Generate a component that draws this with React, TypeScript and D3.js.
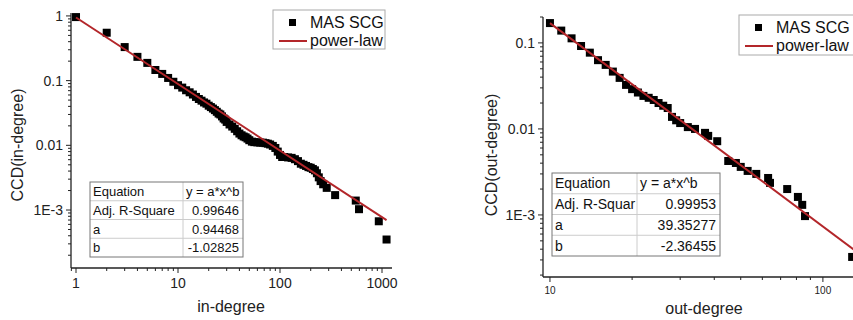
import * as d3 from "d3";

// in-degree complementary cumulative distribution
const inDegree = [
  1, 2, 3, 4, 5, 6, 7, 8, 9, 10, 11, 12, 13, 14, 15, 16, 17, 18, 19, 20, 21, 22, 23, 24, 25, 26, 27, 28, 29, 30,
  32, 34, 36, 38, 40, 42, 44, 46, 48, 50, 53, 56, 60, 64, 68, 72, 76, 80, 85, 90, 95, 100, 105, 110, 120, 130,
  140, 150, 160, 170, 180, 190, 200, 210, 220, 230, 240, 250, 265, 287, 347, 553, 595, 930, 1108,
];
const inCcd = [
  0.96, 0.55, 0.33, 0.233, 0.188, 0.146, 0.127, 0.11, 0.096, 0.085, 0.078, 0.071, 0.066, 0.061, 0.056, 0.052,
  0.049, 0.046, 0.044, 0.041, 0.039, 0.037, 0.035, 0.033, 0.031, 0.03, 0.028, 0.026, 0.025, 0.023, 0.021, 0.0195,
  0.018, 0.0165, 0.0152, 0.0143, 0.0137, 0.0133, 0.0127, 0.012, 0.0114, 0.0112, 0.0111, 0.011, 0.011, 0.0108,
  0.0106, 0.0103, 0.0098, 0.0091, 0.008, 0.0071, 0.0066, 0.0066, 0.0065, 0.0064, 0.0061, 0.0057, 0.0052, 0.005,
  0.0048, 0.0046, 0.0045, 0.0043, 0.0041, 0.0037, 0.0032, 0.0028, 0.0025, 0.0022, 0.0017, 0.0014, 0.00103,
  0.00067, 0.00035,
];

// out-degree
const outDegree = [
  10, 11, 12, 13, 14, 15, 16, 17, 18, 19, 20, 21, 22, 23, 24, 25, 26, 27, 28, 29, 30, 32, 34, 37, 38, 41, 45, 48,
  50, 53, 57, 63, 64, 74, 81, 84, 86, 128,
];
const outCcd = [
  0.17, 0.139, 0.113, 0.092, 0.077, 0.063, 0.0555, 0.0464, 0.0392, 0.0325, 0.029, 0.0265, 0.0242, 0.023, 0.0217,
  0.02, 0.0186, 0.0175, 0.0138, 0.0126, 0.0117, 0.0105, 0.01, 0.009, 0.0083, 0.0072, 0.00424, 0.00402, 0.00362,
  0.00325, 0.003, 0.00269, 0.00236, 0.002, 0.00162, 0.00131, 0.00097, 0.000325,
];

const inFit = [0.94468, -1.02825];
const outFit = [39.35277, -2.36455];

const inTable = [
  ["Equation", "y = a*x^b"],
  ["Adj. R-Square", "0.99646"],
  ["a", "0.94468"],
  ["b", "-1.02825"],
];
const outTable = [
  ["Equation", "y = a*x^b"],
  ["Adj. R-Squar", "0.99953"],
  ["a", "39.35277"],
  ["b", "-2.36455"],
];

const legendLabels = ["MAS SCG", "power-law"];
const inXTicks = [1, 10, 100, 1000];
const inYTicks = [1, 0.1, 0.01, 0.001];
const outXTicks = [10, 100];
const outYTicks = [0.1, 0.01, 0.001];
const yTickText = (v: number) => (v === 0.001 ? "1E-3" : String(v));

const RED = "#b3262a";
const AXIS = "#222";
const FONT = "Liberation Sans, Arial, sans-serif";

function minorTicks(domain: number[]) {
  const lo = Math.min(domain[0], domain[1]);
  const hi = Math.max(domain[0], domain[1]);
  const out: number[] = [];
  for (let k = Math.floor(Math.log10(lo)); k <= Math.ceil(Math.log10(hi)); k++) {
    for (let m = 2; m <= 9; m++) {
      const v = m * Math.pow(10, k);
      if (v >= lo && v <= hi) out.push(v);
    }
  }
  return out;
}

type PanelProps = {
  id: string;
  xs: number[];
  ys: number[];
  fit: number[];
  fitEnd: number;
  xDomain: number[];
  xRange: number[];
  yDomain: number[];
  yRange: number[];
  xTicks: number[];
  yTicks: number[];
  xTickSize: number;
  xTitle: string;
  yTitle: string;
  xTitleX: number;
  xTitleY: number;
  yTitleY: number;
  yTitleX: number;
  table: string[][];
  tbl: { x: number; y: number; w: number; h: number; split: number; fs: number };
  leg: { x: number; y: number; w: number; h: number };
};

function Panel(p: PanelProps) {
  const x = d3.scaleLog().domain(p.xDomain).range(p.xRange);
  const y = d3.scaleLog().domain(p.yDomain).range(p.yRange);
  const [x0, x1] = p.xRange;
  const [y0, y1] = p.yRange;
  const line = d3
    .line<number>()
    .x((d) => x(d))
    .y((d) => y(p.fit[0] * Math.pow(d, p.fit[1])));
  const rowH = p.tbl.h / p.table.length;
  const L = p.leg;
  const ms = 8;
  return (
    <g>
      <defs>
        <clipPath id={p.id}>
          <rect x={x0} y={y0 - 4} width={x1 - x0 + 4} height={y1 - y0 + 4} />
        </clipPath>
      </defs>
      <g clipPath={`url(#${p.id})`}>
        {p.xs.map((d, i) => (
          <rect key={i} x={x(d) - ms / 2} y={y(p.ys[i]) - ms / 2} width={ms} height={ms} fill="#000" />
        ))}
        <path d={line([p.xs[0], p.fitEnd]) || ""} stroke={RED} strokeWidth={2} fill="none" />
      </g>
      {/* axes */}
      <line x1={x0} x2={x1} y1={y1} y2={y1} stroke={AXIS} strokeWidth={1.3} />
      <line x1={x0} x2={x0} y1={y0} y2={y1} stroke={AXIS} strokeWidth={1.3} />
      {minorTicks(p.xDomain).map((v) => (
        <line key={"mx" + v} x1={x(v)} x2={x(v)} y1={y1} y2={y1 + 3} stroke={AXIS} />
      ))}
      {p.xTicks.map((v) => (
        <g key={"x" + v}>
          <line x1={x(v)} x2={x(v)} y1={y1} y2={y1 + 5} stroke={AXIS} />
          <text x={x(v)} y={y1 + 9 + p.xTickSize * 0.75} fontSize={p.xTickSize} textAnchor="middle" fill="#222">
            {v}
          </text>
        </g>
      ))}
      {minorTicks(p.yDomain).map((v) => (
        <line key={"my" + v} x1={x0 - 3} x2={x0} y1={y(v)} y2={y(v)} stroke={AXIS} />
      ))}
      {p.yTicks.map((v) => (
        <g key={"y" + v}>
          <line x1={x0 - 5} x2={x0} y1={y(v)} y2={y(v)} stroke={AXIS} />
          <text x={x0 - 8} y={y(v) + 5} fontSize={14} textAnchor="end" fill="#222">
            {yTickText(v)}
          </text>
        </g>
      ))}
      <text x={p.xTitleX} y={p.xTitleY} fontSize={16} textAnchor="middle" fill="#222">
        {p.xTitle}
      </text>
      <text
        transform={`translate(${p.yTitleX},${p.yTitleY}) rotate(-90)`}
        fontSize={16}
        textAnchor="middle"
        fill="#222"
      >
        {p.yTitle}
      </text>
      {/* fit table */}
      <g fontSize={p.tbl.fs} fill="#111">
        <rect x={p.tbl.x} y={p.tbl.y} width={p.tbl.w} height={p.tbl.h} fill="#fff" stroke="none" />
        {p.table.slice(1).map((_, i) => (
          <line
            key={i}
            x1={p.tbl.x}
            x2={p.tbl.x + p.tbl.w}
            y1={p.tbl.y + rowH * (i + 1)}
            y2={p.tbl.y + rowH * (i + 1)}
            stroke="#ccc"
          />
        ))}
        <line
          x1={p.tbl.x + p.tbl.split}
          x2={p.tbl.x + p.tbl.split}
          y1={p.tbl.y}
          y2={p.tbl.y + p.tbl.h}
          stroke="#ccc"
        />
        <rect x={p.tbl.x} y={p.tbl.y} width={p.tbl.w} height={p.tbl.h} fill="none" stroke="#777" />
        {p.table.map((r, i) => (
          <g key={r[0]}>
            <text x={p.tbl.x + 3} y={p.tbl.y + rowH * i + rowH / 2 + p.tbl.fs * 0.36}>
              {r[0]}
            </text>
            <text
              x={i === 0 ? p.tbl.x + p.tbl.split + 3 : p.tbl.x + p.tbl.w - 4}
              y={p.tbl.y + rowH * i + rowH / 2 + p.tbl.fs * 0.36}
              textAnchor={i === 0 ? "start" : "end"}
            >
              {r[1]}
            </text>
          </g>
        ))}
      </g>
      {/* legend */}
      <g fontSize={16} fill="#111">
        <rect x={L.x} y={L.y} width={L.w} height={L.h} fill="#fff" stroke="#aaa" />
        <rect x={L.x + 16} y={L.y + 9} width={7} height={7} fill="#000" />
        <text x={L.x + 37} y={L.y + 18}>
          {legendLabels[0]}
        </text>
        <line x1={L.x + 6} x2={L.x + 34} y1={L.y + 31} y2={L.y + 31} stroke={RED} strokeWidth={2} />
        <text x={L.x + 37} y={L.y + 36}>
          {legendLabels[1]}
        </text>
      </g>
    </g>
  );
}

export default function App() {
  return (
    <svg
      width={853}
      height={320}
      style={{ position: "absolute", left: 0, top: 0, background: "#fff", fontFamily: FONT }}
    >
      <Panel
        id="clipIn"
        xs={inDegree}
        ys={inCcd}
        fit={inFit}
        fitEnd={1108}
        xDomain={[0.893, 1253]}
        xRange={[71, 392]}
        yDomain={[1.11, 1.27e-4]}
        yRange={[13, 268]}
        xTicks={inXTicks}
        yTicks={inYTicks}
        xTickSize={14}
        xTitle="in-degree"
        yTitle="CCD(in-degree)"
        xTitleX={231}
        xTitleY={312}
        yTitleX={23}
        yTitleY={145}
        table={inTable}
        tbl={{ x: 90, y: 182, w: 153, h: 75, split: 93, fs: 13 }}
        leg={{ x: 273, y: 10, w: 112, h: 39 }}
      />
      <Panel
        id="clipOut"
        xs={outDegree}
        ys={outCcd}
        fit={outFit}
        fitEnd={149}
        xDomain={[9.43, 148.8]}
        xRange={[543, 870]}
        yDomain={[0.2, 1.9e-4]}
        yRange={[17, 277]}
        xTicks={outXTicks}
        yTicks={outYTicks}
        xTickSize={10}
        xTitle="out-degree"
        yTitle="CCD(out-degree)"
        xTitleX={704}
        xTitleY={314}
        yTitleX={497}
        yTitleY={155}
        table={outTable}
        tbl={{ x: 552, y: 173, w: 168, h: 83, split: 85, fs: 14 }}
        leg={{ x: 739, y: 15, w: 130, h: 40 }}
      />
    </svg>
  );
}
